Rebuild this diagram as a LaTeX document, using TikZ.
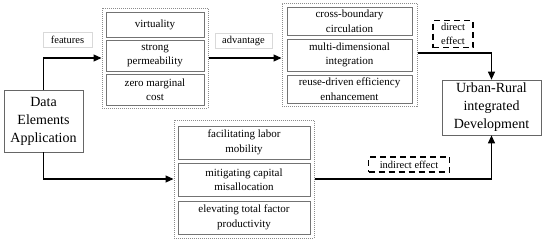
\documentclass[tikz,border=0pt]{standalone}
\usepackage{fontspec}
\setmainfont{Liberation Serif}
\usetikzlibrary{arrows.meta}
\begin{document}
\begin{tikzpicture}[x=1pt,y=-1pt,
  item/.style={draw=black!55, line width=0.6pt, align=center, inner sep=0pt, font=\fontsize{11}{14.5}\selectfont},
  group/.style={draw=black!45, densely dotted, line width=1pt, inner sep=0pt},
  mainbox/.style={draw=black!60, line width=0.7pt, align=center, inner sep=0pt, font=\fontsize{14}{18}\selectfont},
  lab/.style={draw=black!15, line width=0.5pt, align=center, inner sep=0pt, font=\fontsize{10.5}{12.5}\selectfont},
  effect/.style={draw=black, dash pattern=on 6pt off 4pt, line width=1.2pt, align=center, inner sep=0pt, font=\fontsize{10.5}{13.5}\selectfont},
  arr/.style={line width=1.1pt, -{Triangle[length=8pt,width=7pt]}}]
\useasboundingbox (0,0) rectangle (550,242);
% main boxes
\node[mainbox, minimum width=79pt, minimum height=62pt] (data) at (43.5,121) {Data\\Elements\\Application};
\node[mainbox, minimum width=99pt, minimum height=55pt] (urban) at (491.5,107.5) {Urban-Rural\\integrated\\Development};
% group 1
\node[group, minimum width=106pt, minimum height=100pt] (g1) at (155,58) {};
\node[item, minimum width=98pt, minimum height=25pt] (v) at (155,24.5) {virtuality};
\node[item, minimum width=98pt, minimum height=31pt] (sp) at (155,55.5) {strong\\permeability};
\node[item, minimum width=98pt, minimum height=31pt] (zm) at (155,89.5) {zero marginal\\cost};
% group 2
\node[group, minimum width=135pt, minimum height=103pt] (g2) at (349.5,54.5) {};
\node[item, minimum width=125pt, minimum height=28pt] (cb) at (349.5,21) {cross-boundary\\circulation};
\node[item, minimum width=125pt, minimum height=32pt] (md) at (349.5,55) {multi-dimensional\\integration};
\node[item, minimum width=125pt, minimum height=28pt] (rd) at (349.5,89) {reuse-driven efficiency\\enhancement};
% group 3
\node[group, minimum width=140pt, minimum height=118pt] (g3) at (244,179) {};
\node[item, minimum width=132pt, minimum height=33pt] (fl) at (244,142.5) {facilitating labor\\mobility};
\node[item, minimum width=132pt, minimum height=33pt] (mc) at (244,179.5) {mitigating capital\\misallocation};
\node[item, minimum width=132pt, minimum height=33pt] (et) at (244,217.5) {elevating total factor\\productivity};
% labels
\node[lab, minimum width=49pt, minimum height=15pt] (feat) at (67.5,39.5) {features};
\node[lab, minimum width=57pt, minimum height=15pt] (adv) at (243.5,40.5) {advantage};
\node[effect, minimum width=40pt, minimum height=27pt] (de) at (453,34) {direct\\effect};
\node[effect, minimum width=81pt, minimum height=15pt] (ie) at (409,164.5) {indirect effect};
% connectors
\draw[arr] (data.north) |- (g1.west);
\draw[arr] (g1.east) -- (g1.east -| g2.west);
\draw[arr] ([yshift=1.5pt]g2.east) -| (urban.north);
\draw[arr] (data.south) |- (g3.west);
\draw[arr] (g3.east) -| (urban.south);
\end{tikzpicture}
\end{document}
